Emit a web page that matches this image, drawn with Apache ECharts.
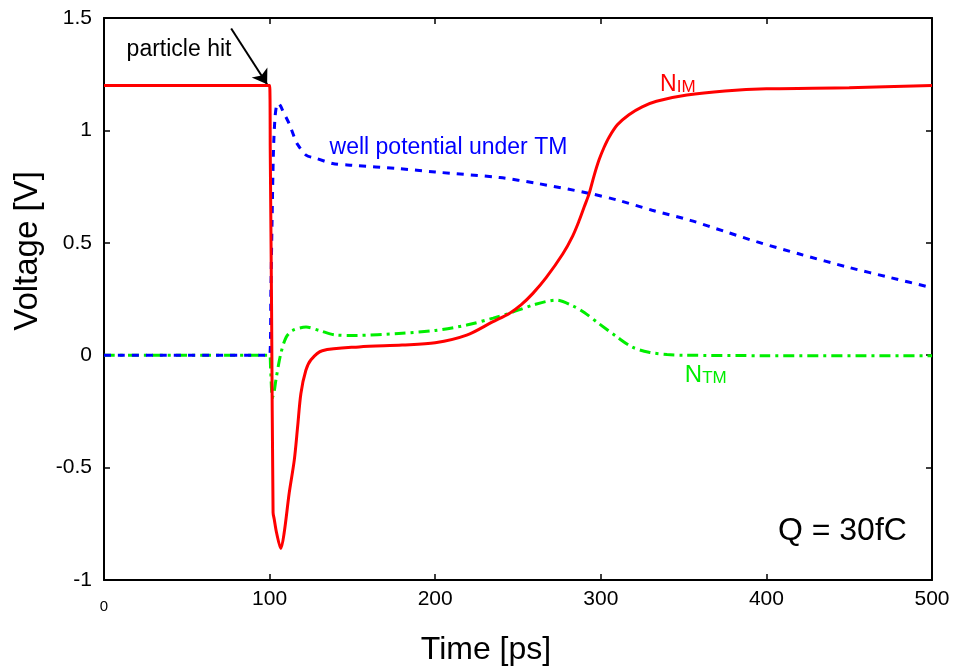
<!DOCTYPE html>
<html>
<head>
<meta charset="utf-8">
<script src="https://cdn.jsdelivr.net/npm/echarts@6/dist/echarts.min.js"></script>
<style>
  html, body { margin: 0; padding: 0; background: #fff; }
  #chart { width: 953px; height: 666px; }
</style>
</head>
<body>
<div id="chart"></div>
<script>
// Node voltages after a 30 fC particle strike at t = 100 ps

// N_IM node (red, solid)
const tNim = [0, 100, 100.4, 101.2, 102.1, 102.8, 104.2, 106.8, 108.8, 111.9, 114.9, 116.9, 118.9, 121.9, 125, 131.8, 154, 180, 200, 219, 234.6, 245, 252, 259, 267, 277, 283, 287, 290, 293, 296, 299, 302, 305, 310, 317, 325, 333.6, 352, 375, 400, 450, 500];
const vNim = [1.2, 1.2, 0.9, 0.2, -0.70, -0.73, -0.79, -0.86, -0.79, -0.61, -0.467, -0.32, -0.17, -0.067, -0.02, 0.02, 0.037, 0.045, 0.055, 0.089, 0.148, 0.187, 0.225, 0.275, 0.345, 0.45, 0.53, 0.60, 0.66, 0.72, 0.80, 0.87, 0.925, 0.97, 1.025, 1.07, 1.105, 1.13, 1.157, 1.175, 1.185, 1.19, 1.2];

// well potential under TM (blue, dashed)
const tWell = [0, 100, 100.8, 101.5, 102.3, 103.2, 104.2, 105.2, 106.5, 107.8, 109.8, 111.8, 114.9, 116.7, 122, 128, 138, 150, 178, 200, 239, 261, 293, 310, 331, 354, 375, 394, 420, 450, 475, 500];
const vWell = [0, 0, 0.3, 0.6, 0.9, 1.05, 1.11, 1.12, 1.11, 1.09, 1.06, 1.03, 0.97, 0.94, 0.89, 0.876, 0.853, 0.845, 0.83, 0.815, 0.79, 0.765, 0.72, 0.69, 0.645, 0.60, 0.55, 0.505, 0.45, 0.39, 0.345, 0.30];

// N_TM node (green, dash-dot)
const tNtm = [0, 100, 100.6, 101.7, 102.8, 103.8, 106.8, 110, 113.8, 122, 130, 140, 152, 178, 200, 219, 235, 245, 260, 273, 283, 290, 299, 310, 319, 329, 340, 350, 400, 500];
const vNtm = [0, 0, -0.06, -0.19, -0.16, -0.11, 0.008, 0.08, 0.11, 0.125, 0.11, 0.09, 0.088, 0.097, 0.11, 0.134, 0.165, 0.187, 0.225, 0.245, 0.22, 0.19, 0.14, 0.08, 0.036, 0.013, 0.003, 0, -0.002, -0.002];

// axis ranges and ticks
const xTicks = [0, 100, 200, 300, 400, 500];
const yTicks = [-1, -0.5, 0, 0.5, 1, 1.5];

const pairs = (t, v) => t.map((x, i) => [x, v[i]]);

const FONT = '"Liberation Sans", Arial, sans-serif';
const chart = echarts.init(document.getElementById('chart'), null, { renderer: 'canvas' });

const xBase = {
  type: 'value', min: xTicks[0], max: xTicks[xTicks.length - 1], interval: 100,
  splitLine: { show: false },
  axisLine: { show: true, onZero: false, lineStyle: { color: '#000', width: 2 } },
  axisTick: { show: true, inside: true, length: 6, lineStyle: { color: '#000', width: 1.5 } }
};
const yBase = {
  type: 'value', min: yTicks[0], max: yTicks[yTicks.length - 1], interval: 0.5,
  splitLine: { show: false },
  axisLine: { show: true, onZero: false, lineStyle: { color: '#000', width: 2 } },
  axisTick: { show: true, inside: true, length: 6, lineStyle: { color: '#000', width: 1.5 } }
};

chart.setOption({
  animation: false,
  backgroundColor: '#fff',
  textStyle: { fontFamily: FONT },
  grid: { left: 104, right: 21, top: 18, bottom: 86, containLabel: false, outerBoundsMode: 'none' },
  xAxis: [
    Object.assign({}, xBase, {
      position: 'bottom',
      name: 'Time [ps]', nameLocation: 'middle', nameGap: 54,
      nameTextStyle: { fontSize: 32, color: '#000', fontFamily: FONT, padding: [0, 64, 0, 0] },
      axisLabel: {
        color: '#000', fontSize: 21, margin: 9, fontFamily: FONT,
        formatter: v => (v === 0 ? '{s|0}' : String(v)),
        rich: { s: { fontSize: 15, color: '#000', fontFamily: FONT, padding: [10, 0, 0, 0] } }
      }
    }),
    Object.assign({}, xBase, { position: 'top', axisLabel: { show: false } })
  ],
  yAxis: [
    Object.assign({}, yBase, {
      position: 'left',
      name: 'Voltage [V]', nameLocation: 'middle', nameGap: 60,
      nameTextStyle: { fontSize: 33, color: '#000', fontFamily: FONT, padding: [0, 0, 0, 96] },
      axisLabel: { color: '#000', fontSize: 21, margin: 12, fontFamily: FONT }
    }),
    Object.assign({}, yBase, { position: 'right', axisLabel: { show: false } })
  ],
  series: [
    {
      name: 'NTM', type: 'line', xAxisIndex: 0, yAxisIndex: 0,
      data: pairs(tNtm, vNtm), showSymbol: false, smooth: 0.3, z: 3,
      lineStyle: { color: '#00ee00', width: 3, type: [11, 5, 3, 5] },
      markPoint: {
        symbol: 'rect', symbolSize: 0, silent: true,
        data: [{
          coord: [363.4, -0.089],
          label: {
            show: true, position: 'inside', formatter: '{a|N}{b|TM}',
            rich: {
              a: { fontSize: 24, color: '#00ee00', fontFamily: FONT, verticalAlign: 'bottom' },
              b: { fontSize: 17, color: '#00ee00', fontFamily: FONT, verticalAlign: 'bottom' }
            }
          }
        }]
      }
    },
    {
      name: 'well potential under TM', type: 'line', xAxisIndex: 0, yAxisIndex: 0,
      data: pairs(tWell, vWell), showSymbol: false, smooth: 0.3, z: 4,
      lineStyle: { color: '#0000ff', width: 3, type: [7, 7] },
      markPoint: {
        symbol: 'rect', symbolSize: 0, silent: true,
        data: [{
          coord: [208, 0.925],
          label: { show: true, position: 'inside', formatter: 'well potential under TM',
                   fontSize: 23, color: '#0000ff', fontFamily: FONT }
        }]
      }
    },
    {
      name: 'NIM', type: 'line', xAxisIndex: 0, yAxisIndex: 0,
      data: pairs(tNim, vNim), showSymbol: false, smooth: 0.3, z: 5,
      lineStyle: { color: '#ff0000', width: 3, type: 'solid' },
      markPoint: {
        symbol: 'rect', symbolSize: 0, silent: true,
        data: [
          {
            coord: [346.5, 1.205],
            label: {
              show: true, position: 'inside', formatter: '{a|N}{b|IM}',
              rich: {
                a: { fontSize: 23, color: '#ff0000', fontFamily: FONT, verticalAlign: 'bottom' },
                b: { fontSize: 17, color: '#ff0000', fontFamily: FONT, verticalAlign: 'bottom' }
              }
            }
          },
          {
            coord: [45.3, 1.357],
            label: { show: true, position: 'inside', formatter: 'particle hit',
                     fontSize: 23, color: '#000', fontFamily: FONT }
          },
          {
            coord: [445.9, -0.783],
            label: { show: true, position: 'inside', formatter: 'Q = 30fC',
                     fontSize: 32, color: '#000', fontFamily: FONT }
          }
        ]
      },
      markLine: {
        silent: true, animation: false,
        symbol: ['none', 'arrow'], symbolSize: 14,
        label: { show: false },
        lineStyle: { color: '#000', width: 2, type: 'solid' },
        data: [[{ coord: [76.8, 1.453] }, { coord: [98.5, 1.205] }]]
      }
    }
  ]
});
</script>
</body>
</html>
